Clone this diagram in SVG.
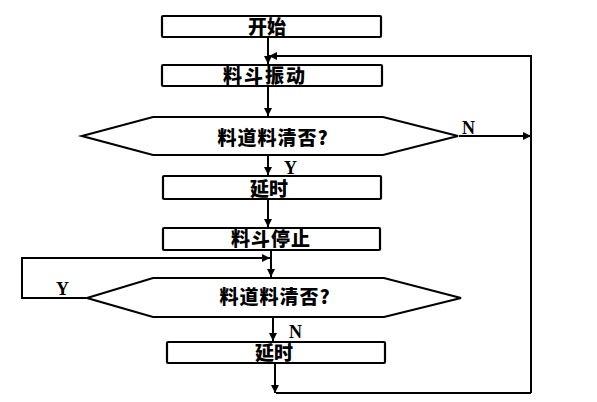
<svg xmlns="http://www.w3.org/2000/svg" width="597" height="402" viewBox="0 0 597 402">
<style>
.s{fill:#fff;stroke:#000;stroke-width:2.2}
.t{font-family:"Noto Sans CJK SC","Liberation Serif",serif;font-weight:900;font-size:19px;text-anchor:middle;fill:#000}
.l{font-family:"Liberation Serif",serif;font-weight:bold;font-size:18px;fill:#000}
.c{fill:none;stroke:#000;stroke-width:2}
</style>
<defs>
<marker id="a" viewBox="0 0 10 10" refX="10" refY="5" markerWidth="9" markerHeight="8" markerUnits="userSpaceOnUse" orient="auto">
<path d="M0,0 L10,5 L0,10 Z" fill="#000"/>
</marker>
</defs>
<rect width="597" height="402" fill="#fff"/>
<g id="start"><rect class="s" x="162" y="16" width="219" height="21" rx="1"/><text class="t" x="267" y="34">开始</text></g>
<g id="vibrate"><rect class="s" x="162" y="65" width="220" height="21" rx="1"/><text class="t" x="265" y="83" letter-spacing="2">料斗振动</text></g>
<g id="check1"><polygon class="s" points="82,136 153,117 383,117 458,136 383,155 153,155"/><text class="t" x="273" y="145" letter-spacing="1">料道料清否?</text></g>
<g id="delay1"><rect class="s" x="163" y="176" width="218" height="23" rx="1"/><text class="t" x="269" y="196">延时</text></g>
<g id="stop"><rect class="s" x="163" y="228" width="217" height="22" rx="1"/><text class="t" x="271" y="246" letter-spacing="1">料斗停止</text></g>
<g id="check2"><polygon class="s" points="87,298 153,278 384,278 461,298 384,317 153,317"/><text class="t" x="275" y="304" letter-spacing="1">料道料清否?</text></g>
<g id="delay2"><rect class="s" x="167" y="342" width="218" height="21" rx="1"/><text class="t" x="274" y="360">延时</text></g>
<g id="connectors">
<path class="c" d="M268,38 V64" marker-end="url(#a)"/>
<path class="c" d="M531,136 V393"/>
<path class="c" d="M531,136 V56 H269" marker-end="url(#a)"/>
<path class="c" d="M459,136 H531" marker-end="url(#a)"/>
<path class="c" d="M268,87 V116" marker-end="url(#a)"/>
<path class="c" d="M268,156 V175" marker-end="url(#a)"/>
<path class="c" d="M268,200 V227" marker-end="url(#a)"/>
<path class="c" d="M271,251 V277" marker-end="url(#a)"/>
<path class="c" d="M86,298 H22 V258 H270" marker-end="url(#a)"/>
<path class="c" d="M273,318 V341" marker-end="url(#a)"/>
<path class="c" d="M275,364 V393" marker-end="url(#a)"/>
<path class="c" d="M276,393 H531"/>
<text class="l" x="462" y="134">N</text>
<text class="l" x="284" y="174">Y</text>
<text class="l" x="56" y="295">Y</text>
<text class="l" x="289" y="338">N</text>
</g>
</svg>
